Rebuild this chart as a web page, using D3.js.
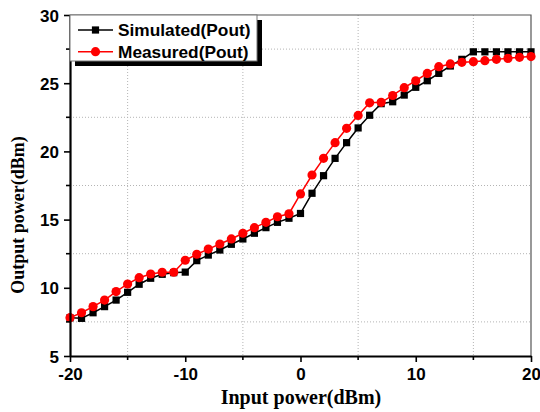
<!DOCTYPE html>
<html>
<head>
<meta charset="utf-8">
<script src="https://cdn.jsdelivr.net/npm/d3@7"></script>
<style>
  body { margin: 0; background: #fff; }
  svg { display: block; }
</style>
</head>
<body>
<div id="wrapper"></div>
<script>
const SIM_COLOR = "black";
const MEAS_COLOR = "#ff0000";

// input power, dBm
const inputPower = d3.range(-20, 21);
// simulated output power, dBm
const simulated = [
  7.8, 7.76, 8.17, 8.62, 9.1, 9.67, 10.26, 10.7, 10.99, 11.11,
  11.15, 11.99, 12.4, 12.77, 13.19, 13.58, 14.0, 14.41, 14.8, 15.1,
  15.45, 16.93, 18.22, 19.49, 20.64, 21.72, 22.65, 23.5, 23.64, 24.13,
  24.7, 25.18, 25.72, 26.26, 26.75, 27.3, 27.3, 27.3, 27.3, 27.3, 27.3
];
// measured output power, dBm
const measured = [
  7.81, 8.17, 8.62, 9.1, 9.72, 10.28, 10.74, 11.01, 11.14, 11.14,
  12.02, 12.46, 12.84, 13.21, 13.58, 14.0, 14.41, 14.8, 15.21, 15.43,
  16.88, 18.27, 19.49, 20.64, 21.69, 22.64, 23.56, 23.6, 24.1, 24.67,
  25.18, 25.72, 26.21, 26.41, 26.53, 26.58, 26.65, 26.75, 26.82, 26.9, 26.95
];
const xTicks = [-20, -10, 0, 10, 20];
const xMinor = [-15, -5, 5, 15];
const yTicks = [5, 10, 15, 20, 25, 30];
const yMinor = [7.5, 12.5, 17.5, 22.5, 27.5];
const legendLabels = ["Simulated(Pout)", "Measured(Pout)"];

function drawChart() {
  let dimensions = {
    width: 540,
    height: 412,
    margin: { top: 15, right: 9, bottom: 56, left: 70 }
  };
  dimensions.boundedWidth = dimensions.width - dimensions.margin.left - dimensions.margin.right;
  dimensions.boundedHeight = dimensions.height - dimensions.margin.top - dimensions.margin.bottom;

  const wrapper = d3.select("#wrapper")
    .append("svg")
    .attr("width", dimensions.width)
    .attr("height", dimensions.height);

  const bounds = wrapper.append("g")
    .attr("transform", `translate(${dimensions.margin.left},${dimensions.margin.top})`);

  const xScale = d3.scaleLinear()
    .domain([-20, 20])
    .range([0, dimensions.boundedWidth]);
  const yScale = d3.scaleLinear()
    .domain([5, 30])
    .range([dimensions.boundedHeight, 0]);

  // dotted grid on the minor ticks
  bounds.append("g").selectAll("line")
    .data(xMinor)
    .join("line")
    .attr("x1", d => xScale(d)).attr("x2", d => xScale(d))
    .attr("y1", 0).attr("y2", dimensions.boundedHeight)
    .attr("stroke", "#b4b4b4").attr("stroke-width", 1)
    .attr("stroke-dasharray", "1 2");
  bounds.append("g").selectAll("line")
    .data(yMinor)
    .join("line")
    .attr("x1", 0).attr("x2", dimensions.boundedWidth)
    .attr("y1", d => yScale(d)).attr("y2", d => yScale(d))
    .attr("stroke", "#b4b4b4").attr("stroke-width", 1)
    .attr("stroke-dasharray", "1 2");

  // top / right frame
  bounds.append("path")
    .attr("d", `M0,0H${dimensions.boundedWidth}V${dimensions.boundedHeight}`)
    .attr("fill", "none").attr("stroke", "#555").attr("stroke-width", 1.2);

  const series = [
    { values: simulated, color: SIM_COLOR, shape: "square" },
    { values: measured, color: MEAS_COLOR, shape: "circle" }
  ];

  const lineGenerator = d3.line()
    .x((d, i) => xScale(inputPower[i]))
    .y(d => yScale(d));

  series.forEach(s => {
    bounds.append("path")
      .attr("d", lineGenerator(s.values))
      .attr("fill", "none")
      .attr("stroke", s.color)
      .attr("stroke-width", 1.5);
    const marks = bounds.append("g");
    if (s.shape === "square") {
      marks.selectAll("rect")
        .data(s.values)
        .join("rect")
        .attr("x", (d, i) => xScale(inputPower[i]) - 3.6)
        .attr("y", d => yScale(d) - 3.6)
        .attr("width", 7.2).attr("height", 7.2)
        .attr("fill", s.color);
    } else {
      marks.selectAll("circle")
        .data(s.values)
        .join("circle")
        .attr("cx", (d, i) => xScale(inputPower[i]))
        .attr("cy", d => yScale(d))
        .attr("r", 4.6)
        .attr("fill", s.color);
    }
  });

  // axes (plain hyphen for negatives, like the original)
  const tickFont = "Arial, 'Liberation Sans', sans-serif";
  const xAxis = bounds.append("g")
    .attr("transform", `translate(0,${dimensions.boundedHeight})`)
    .call(d3.axisBottom(xScale).tickValues(xTicks).tickFormat(d => String(d))
      .tickSize(6).tickPadding(6).tickSizeOuter(0));
  xAxis.append("g").selectAll("line")
    .data(xMinor)
    .join("line")
    .attr("x1", d => xScale(d)).attr("x2", d => xScale(d))
    .attr("y1", 0).attr("y2", 4)
    .attr("stroke", "black").attr("stroke-width", 1.6);

  const yAxis = bounds.append("g")
    .call(d3.axisLeft(yScale).tickValues(yTicks).tickFormat(d => String(d))
      .tickSize(6).tickPadding(5).tickSizeOuter(0));
  yAxis.append("g").selectAll("line")
    .data(yMinor)
    .join("line")
    .attr("x1", 0).attr("x2", -4)
    .attr("y1", d => yScale(d)).attr("y2", d => yScale(d))
    .attr("stroke", "black").attr("stroke-width", 1.6);

  [xAxis, yAxis].forEach(axis => {
    axis.select(".domain").attr("stroke-width", 2.2);
    axis.selectAll(".tick line").attr("stroke-width", 1.6);
    axis.selectAll(".tick text")
      .attr("fill", "black")
      .style("font-family", tickFont)
      .style("font-weight", "bold")
      .style("font-size", "17px");
  });
  yAxis.selectAll(".tick text").attr("dy", "0.36em");

  // axis titles
  wrapper.append("text")
    .attr("x", 301)
    .attr("y", 404)
    .attr("text-anchor", "middle")
    .style("font-family", "'Times New Roman', 'Liberation Serif', serif")
    .style("font-weight", "bold")
    .style("font-size", "20px")
    .text("Input power(dBm)");

  wrapper.append("text")
    .attr("transform", "translate(24,215) rotate(-90)")
    .attr("text-anchor", "middle")
    .style("font-family", "'Times New Roman', 'Liberation Serif', serif")
    .style("font-weight", "bold")
    .style("font-size", "18px")
    .text("Output power(dBm)");

  // legend with drop shadow
  const legend = wrapper.append("g")
    .attr("transform", `translate(${dimensions.margin.left},${dimensions.margin.top})`);
  legend.append("rect")
    .attr("x", 5).attr("y", 5)
    .attr("width", 187).attr("height", 46)
    .attr("fill", "black");
  legend.append("rect")
    .attr("x", 0).attr("y", 0)
    .attr("width", 187).attr("height", 46)
    .attr("fill", "white")
    .attr("stroke", "#777").attr("stroke-width", 1);

  legendLabels.forEach((label, i) => {
    const s = series[i];
    const cy = 15 + i * 21.7;
    legend.append("line")
      .attr("x1", 8).attr("x2", 43)
      .attr("y1", cy).attr("y2", cy)
      .attr("stroke", s.color).attr("stroke-width", 1.5);
    if (s.shape === "square") {
      legend.append("rect")
        .attr("x", 25.5 - 3.6).attr("y", cy - 3.6)
        .attr("width", 7.2).attr("height", 7.2)
        .attr("fill", s.color);
    } else {
      legend.append("circle")
        .attr("cx", 25.5).attr("cy", cy).attr("r", 4.6)
        .attr("fill", s.color);
    }
    legend.append("text")
      .attr("x", 48)
      .attr("y", cy + 5.8)
      .style("font-family", tickFont)
      .style("font-weight", "bold")
      .style("font-size", "17.3px")
      .attr("fill", "black")
      .text(label);
  });
}

drawChart();
</script>
</body>
</html>
